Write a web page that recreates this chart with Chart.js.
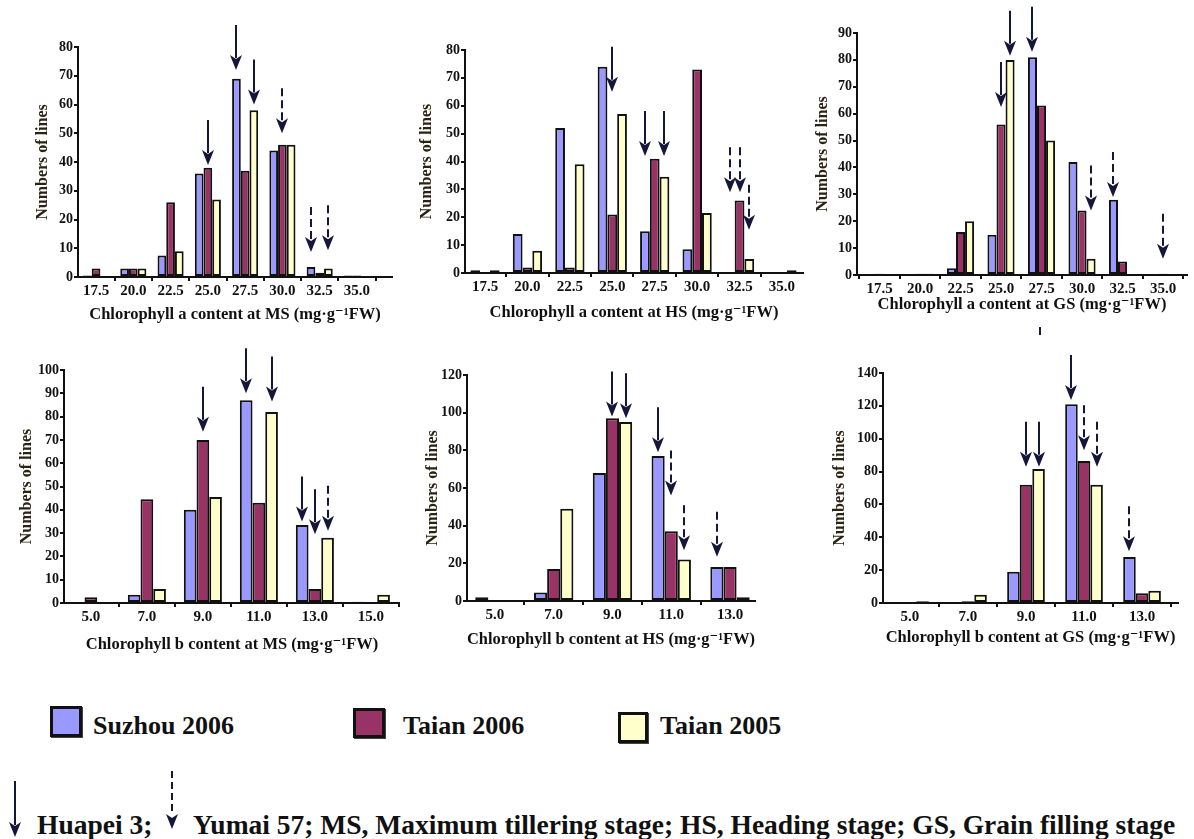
<!DOCTYPE html>
<html><head><meta charset="utf-8">
<script src="https://cdn.jsdelivr.net/npm/chart.js@4.4.1/dist/chart.umd.min.js"></script>
<style>
html,body{margin:0;padding:0;background:#fff;}
body{width:1194px;height:839px;position:relative;overflow:hidden;font-family:'Liberation Serif','Times New Roman',serif;font-weight:bold;color:#111;}
canvas{position:absolute;}
.sw{position:absolute;border:3px solid #111;box-sizing:border-box;box-shadow:1px 1px 0 #444;}
.lt{position:absolute;font-size:26px;line-height:30px;white-space:nowrap;}
.cap{position:absolute;font-size:27.5px;line-height:30px;white-space:nowrap;}
svg{position:absolute;left:0;top:0;}
</style></head><body>
<div class="sw" style="left:50px;top:706px;width:32px;height:31px;background:#9999ff"></div>
<div class="lt" style="left:93px;top:711px">Suzhou 2006</div>
<div class="sw" style="left:353px;top:708px;width:32px;height:30px;background:#993366"></div>
<div class="lt" style="left:403px;top:711px">Taian 2006</div>
<div class="sw" style="left:618px;top:712px;width:30px;height:31px;background:#ffffcc"></div>
<div class="lt" style="left:660px;top:711px">Taian 2005</div>
<svg width="1194" height="839">
  <line x1="15" y1="781" x2="15" y2="825" stroke="#14163a" stroke-width="2"/>
  <path d="M15 837 L9 822 L15 826 L21 822 Z" fill="#14163a"/>
  <line x1="172" y1="771" x2="172" y2="815" stroke="#14163a" stroke-width="2" stroke-dasharray="7 4"/>
  <path d="M172 829 L166 814 L172 818 L178 814 Z" fill="#14163a"/>
  <rect x="1039" y="327" width="2" height="8" fill="#14163a"/>
</svg>
<div class="cap" style="left:37px;top:810px">Huapei 3;</div>
<div class="cap" style="left:193px;top:810px">Yumai 57; MS, Maximum tillering stage; HS, Heading stage; GS, Grain filling stage</div>
<script>
// ---- categories (bin centres) ----
const binsA = [17.5, 20.0, 22.5, 25.0, 27.5, 30.0, 32.5, 35.0];
const binsB_MS = [5.0, 7.0, 9.0, 11.0, 13.0, 15.0];
const binsB = [5.0, 7.0, 9.0, 11.0, 13.0];
const seriesNames = ['Suzhou 2006', 'Taian 2006', 'Taian 2005'];

// ---- Chlorophyll a, MS ----
const aMS_suzhou06 = [0.5, 3, 7.5, 36, 69, 44, 3.5, 0.5];
const aMS_taian06  = [3, 3, 26, 38, 37, 46, 1.5, 0.5];
const aMS_taian05  = [0, 3, 9, 27, 58, 46, 3, 0];
// ---- Chlorophyll a, HS ----
const aHS_suzhou06 = [1, 14, 52, 74, 15, 8.5, 0, 0];
const aHS_taian06  = [0, 2, 2, 21, 41, 73, 26, 0];
const aHS_taian05  = [1, 8, 39, 57, 34.5, 21.5, 5, 1];
// ---- Chlorophyll a, GS ----
const aGS_suzhou06 = [0, 0, 2.5, 15, 81, 42, 28, 0];
const aGS_taian06  = [0.5, 0.5, 16, 56, 63, 24, 5, 0.5];
const aGS_taian05  = [0, 0.5, 20, 80, 50, 6, 0, 0];
// ---- Chlorophyll b, MS ----
const bMS_suzhou06 = [0, 3.5, 40, 87, 33.5, 0.5];
const bMS_taian06  = [2.5, 44.5, 70, 43, 6, 0];
const bMS_taian05  = [0, 6, 45.5, 82, 28, 3.5];
// ---- Chlorophyll b, HS ----
const bHS_suzhou06 = [2, 4.5, 68, 77, 18];
const bHS_taian06  = [0, 17, 97, 37, 18];
const bHS_taian05  = [0.5, 49, 95, 22, 2];
// ---- Chlorophyll b, GS ----
const bGS_suzhou06 = [0, 0, 19, 121, 28];
const bGS_taian06  = [0, 1, 72, 86.5, 6];
const bGS_taian05  = [1, 5, 81.5, 72, 7.5];

// ---- cultivar arrows: [bin index, series index, value at arrow tip, dashed (Yumai 57)] ----
const arrows_aMS = [[3,1,39,0],[4,0,72,0],[4,2,60,0],[5,1,50,1],[6,0,8.7,1],[6,2,9.3,1]];
const arrows_aHS = [[3,1,65,0],[4,0,42,0],[4,2,42,0],[6,0,29,1],[6,1,29,1],[6,2,15.5,1]];
const arrows_aGS = [[3,1,62.5,0],[3,2,81.5,0],[4,0,83,0],[5,2,24,1],[6,0,29,1],[7,1,6,1]];
const arrows_bMS = [[2,1,73.5,0],[3,0,90,0],[3,2,86.5,0],[4,0,35,0],[4,1,29.5,0],[4,2,31,1]];
const arrows_bHS = [[2,1,98,0],[2,2,97,0],[3,0,79,0],[3,1,56,1],[3,2,27,1],[4,0,23.5,1]];
const arrows_bGS = [[2,1,83,0],[2,2,83,0],[3,0,123.5,0],[3,1,93,1],[3,2,83,1],[4,0,31.5,1]];

const barColors = ['#9999ff', '#993366', '#ffffcc'];
const ink = '#111';
const arrowInk = '#14163a';
const FONT = "'Liberation Serif', 'Times New Roman', 'DejaVu Serif', serif";
Chart.defaults.font.family = FONT;
Chart.defaults.font.weight = 'bold';
Chart.defaults.color = ink;

const X_TICK = 15, Y_TICK = 14, X_TITLE = 16.5, Y_TITLE = 16;

const arrowPlugin = {
  id: 'arrows',
  afterDatasetsDraw(chart, args, opts) {
    const ctx = chart.ctx, ys = chart.scales.y;
    (opts.items || []).forEach(([bi, si, tip, dashed]) => {
      const el = chart.getDatasetMeta(si).data[bi];
      const x = Math.round(el.x);
      const yTip = ys.getPixelForValue(tip);
      const len = 45, hh = 15, hw = 6;
      ctx.save();
      ctx.strokeStyle = arrowInk; ctx.fillStyle = arrowInk;
      ctx.lineWidth = 2;
      ctx.setLineDash(dashed ? [8, 4] : []);
      ctx.beginPath(); ctx.moveTo(x, yTip - len); ctx.lineTo(x, yTip - hh + 3); ctx.stroke();
      ctx.setLineDash([]);
      ctx.beginPath();
      ctx.moveTo(x, yTip); ctx.lineTo(x - hw, yTip - hh); ctx.lineTo(x, yTip - hh + 4); ctx.lineTo(x + hw, yTip - hh);
      ctx.closePath(); ctx.fill();
      ctx.restore();
    });
  }
};

function build(p) {
  const c = document.createElement('canvas');
  c.width = p.w; c.height = p.h;
  c.style.left = p.cx + 'px'; c.style.top = p.cy + 'px';
  document.body.appendChild(c);
  const datasets = p.series.map((s, k) => ({
    label: seriesNames[k],
    data: p.bins.map((b, i) => ({ x: b, y: s[i] === 0 ? null : s[i] })),
    backgroundColor: barColors[k], borderColor: ink, borderWidth: 2, borderSkipped: false,
    categoryPercentage: p.cp, barPercentage: 1
  }));
  new Chart(c, {
    type: 'bar',
    data: { datasets },
    plugins: [arrowPlugin],
    options: {
      responsive: false, animation: false, devicePixelRatio: 1,
      layout: { padding: { left: 0, top: p.t - p.cy, right: p.cx + p.w - p.r, bottom: 0 } },
      plugins: { legend: { display: false }, tooltip: { enabled: false }, arrows: { items: p.arrows } },
      scales: {
        x: {
          type: 'linear', min: p.xmin, max: p.xmax, offset: false,
          afterBuildTicks: s => { s.ticks = p.bins.map(v => ({ value: v })); },
          afterFit: s => { s.height = p.cy + p.h - p.b; },
          ticks: { autoSkip: false, maxRotation: 0, minRotation: 0, padding: 1, font: { size: X_TICK, weight: 'bold' },
                   callback: v => Number(v).toFixed(1) },
          grid: { offset: true, drawOnChartArea: false, tickLength: 4, color: ink, lineWidth: 2 },
          border: { color: ink, width: 2 },
          title: { display: true, text: p.xTitle, font: { size: X_TITLE, weight: 'bold' },
                   padding: { top: 0, bottom: (p.cy + p.h - p.xTitleY) - 0.6 * X_TITLE } }
        },
        y: {
          min: 0, max: p.ymax,
          afterFit: s => { s.width = p.l - p.cx; },
          ticks: { stepSize: p.ystep, padding: 1, font: { size: Y_TICK, weight: 'bold' } },
          grid: { drawOnChartArea: false, tickLength: 4, color: ink, lineWidth: 2 },
          border: { color: ink, width: 2 },
          title: { display: true, text: 'Numbers of lines', color: '#2a2312', font: { size: Y_TITLE, weight: 'bold' },
                   padding: { top: (p.yTitleX - p.cx) - 0.6 * Y_TITLE, bottom: 0 } }
        }
      }
    }
  });
}

const unit = '(mg\u00B7g\u207B\u00B9FW)';
const panels = [
  { cx: 0, cy: 20, w: 400, h: 310, l: 78, t: 47, r: 392, b: 277, xmin: 16.29, xmax: 37.35, cp: 0.7,
    ymax: 80, ystep: 10, yTitleX: 43, xTitleY: 315, bins: binsA,
    series: [aMS_suzhou06, aMS_taian06, aMS_taian05], arrows: arrows_aMS,
    xTitle: 'Chlorophyll a content at MS ' + unit },
  { cx: 400, cy: 20, w: 405, h: 310, l: 465, t: 50, r: 803, b: 273, xmin: 16.32, xmax: 36.24, cp: 0.69,
    ymax: 80, ystep: 10, yTitleX: 427, xTitleY: 313, bins: binsA,
    series: [aHS_suzhou06, aHS_taian06, aHS_taian05], arrows: arrows_aHS,
    xTitle: 'Chlorophyll a content at HS ' + unit },
  { cx: 805, cy: 0, w: 389, h: 330, l: 857, t: 33, r: 1187, b: 275, xmin: 16.11, xmax: 36.48, cp: 0.67,
    ymax: 90, ystep: 10, yTitleX: 823, xTitleY: 305, bins: binsA,
    series: [aGS_suzhou06, aGS_taian06, aGS_taian05], arrows: arrows_aGS,
    xTitle: 'Chlorophyll a content at GS ' + unit },
  { cx: 0, cy: 345, w: 400, h: 310, l: 64, t: 370, r: 400, b: 603, xmin: 4.04, xmax: 16.04, cp: 0.68,
    ymax: 100, ystep: 10, yTitleX: 27, xTitleY: 645, bins: binsB_MS,
    series: [bMS_suzhou06, bMS_taian06, bMS_taian05], arrows: arrows_bMS,
    xTitle: 'Chlorophyll b content at MS ' + unit },
  { cx: 405, cy: 345, w: 395, h: 310, l: 467, t: 375, r: 755, b: 601, xmin: 4.05, xmax: 13.85, cp: 0.67,
    ymax: 120, ystep: 20, yTitleX: 433, xTitleY: 640, bins: binsB,
    series: [bHS_suzhou06, bHS_taian06, bHS_taian05], arrows: arrows_bHS,
    xTitle: 'Chlorophyll b content at HS ' + unit },
  { cx: 800, cy: 345, w: 394, h: 310, l: 883, t: 373, r: 1178, b: 603, xmin: 4.07, xmax: 14.24, cp: 0.65,
    ymax: 140, ystep: 20, yTitleX: 840, xTitleY: 638, bins: binsB,
    series: [bGS_suzhou06, bGS_taian06, bGS_taian05], arrows: arrows_bGS,
    xTitle: 'Chlorophyll b content at GS ' + unit }
];
panels.forEach(build);
</script>
</body></html>
